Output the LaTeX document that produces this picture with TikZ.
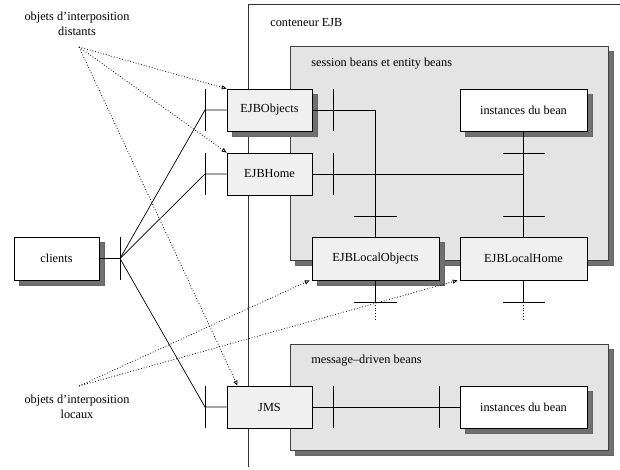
\documentclass[tikz,border=0pt]{standalone}
\usepackage{fontspec}
\setmainfont{Liberation Serif}
\usetikzlibrary{arrows.meta,shadows}
\definecolor{shgray}{HTML}{707070}
\definecolor{zonefill}{HTML}{E4E4E4}
\definecolor{ifacefill}{HTML}{F0F0F0}
\begin{document}
\begin{tikzpicture}[x=1pt,y=-1pt,
  font=\fontsize{12.3}{14.5}\selectfont,
  line width=0.7pt,
  shadowed/.style={drop shadow={shadow xshift=5pt,shadow yshift=-5pt,fill=shgray,draw=black!60,line width=0.5pt,opacity=1}},
  boxbase/.style={draw,rectangle,inner sep=2pt,line width=0.7pt},
  iface/.style={boxbase,fill=ifacefill,minimum width=85pt,minimum height=42pt},
  wideiface/.style={boxbase,fill=ifacefill,minimum width=127pt,minimum height=43pt},
  plainbox/.style={boxbase,fill=white,shadowed},
  zone/.style={draw=black!75,fill=zonefill,line width=0.7pt,shadowed,rectangle,inner sep=0pt},
  conn/.style={draw,line width=0.7pt},
  bar/.style={draw,line width=0.8pt},
  ptr/.style={dotted,line width=0.8pt,-{Triangle[open,length=5pt,width=4pt]}},
  caption/.style={align=center,inner sep=0pt}
]
\useasboundingbox (0,0) rectangle (620,469);

% EJB container: open frame
\coordinate (contbot) at (248,467);
\coordinate (contright) at (620,4);
\draw[line width=0.7pt,black!80] (contbot) |- (contright);
\node[anchor=west,inner sep=0pt] (contlabel) at (270,23) {conteneur EJB};

% zones
\node[zone,minimum width=318pt,minimum height=214pt] (sessionzone) at (449,153) {};
\node[anchor=west,inner sep=0pt] (sessionlabel) at (311,64) {session beans et entity beans};
\node[zone,minimum width=318pt,minimum height=106pt] (mdbzone) at (449,397) {};
\node[anchor=west,inner sep=0pt] (mdblabel) at (311,361) {message–driven beans};

% boxes
\node[plainbox,minimum width=85pt,minimum height=43pt] (clients) at (56.5,258.5) {clients};
\node[iface,shadowed] (ejbobj) at (269.5,110) {EJBObjects};
\node[iface] (ejbhome) at (269.5,174) {EJBHome};
\node[iface] (jms) at (269.5,407) {JMS};
\node[plainbox,minimum width=127pt,minimum height=42pt] (inst1) at (523.5,110) {instances du bean};
\node[plainbox,minimum width=127pt,minimum height=42pt] (inst2) at (523.5,407) {instances du bean};
\node[wideiface,shadowed] (localobj) at (375.5,258.5) {EJBLocalObjects};
\node[wideiface] (localhome) at (523.5,258.5) {EJBLocalHome};

% junction points
\coordinate (cj) at (120,258.5);
\coordinate (jobj) at (205,110);
\coordinate (jhome) at (205,174);
\coordinate (jjms) at (205,407);
\coordinate (vobj) at (375.5,110);
\coordinate (vhome) at (523.5,174);
\coordinate (lobjend) at (375.5,302);
\coordinate (lhomeend) at (523.5,302);
\coordinate (lobjdot) at (375.5,320);
\coordinate (lhomedot) at (523.5,320);

% client side wiring
\draw[conn] (clients.east |- cj) -- (cj);
\draw[conn] (cj) -- (jobj) -- (ejbobj.west |- jobj);
\draw[conn] (cj) -- (jhome) -- (ejbhome.west |- jhome);
\draw[conn] (cj) -- (jjms) -- (jms.west |- jjms);

% bars on the client side
\draw[bar] (120,237) -- (120,280);
\draw[bar] (205,89) -- (205,131);
\draw[bar] (205,153) -- (205,195);
\draw[bar] (205,386) -- (205,428);

% session / entity wiring
\draw[conn] (ejbobj.east) -- (vobj) -- (localobj.north);
\draw[conn] (ejbhome.east) -- (vhome);
\draw[conn] (inst1.south) -- (localhome.north);
\draw[bar] (333,89) -- (333,131);
\draw[bar] (333,153) -- (333,195);
\draw[bar] (503,153) -- (545,153);
\draw[bar] (503,216) -- (545,216);
\draw[bar] (354,216) -- (397,216);

% local interfaces going out
\draw[conn] (localobj.south) -- (lobjend);
\draw[conn] (localhome.south) -- (lhomeend);
\draw[bar] (354,302) -- (397,302);
\draw[bar] (503,302) -- (545,302);
\draw[dotted,line width=0.8pt] (lobjend) -- (lobjdot);
\draw[dotted,line width=0.8pt] (lhomeend) -- (lhomedot);

% message-driven wiring
\draw[conn] (jms.east) -- (inst2.west);
\draw[bar] (333,386) -- (333,428);
\draw[bar] (439,386) -- (439,428);

% captions and pointers
\node[caption] (distants) at (77,24) {objets d’interposition\\distants};
\node[caption] (locaux) at (77,407) {objets d’interposition\\locaux};
\coordinate (dstart) at (79,47);
\coordinate (lstart) at (79,386);
\draw[ptr] (dstart) -- (ejbobj.north west);
\draw[ptr] (dstart) -- (ejbhome.north west);
\draw[ptr] (dstart) -- ([xshift=-32pt]jms.north);
\draw[ptr] (lstart) -- ([xshift=-2pt]localobj.south west);
\draw[ptr] (lstart) -- ([xshift=-2pt]localhome.south west);
\end{tikzpicture}
\end{document}
